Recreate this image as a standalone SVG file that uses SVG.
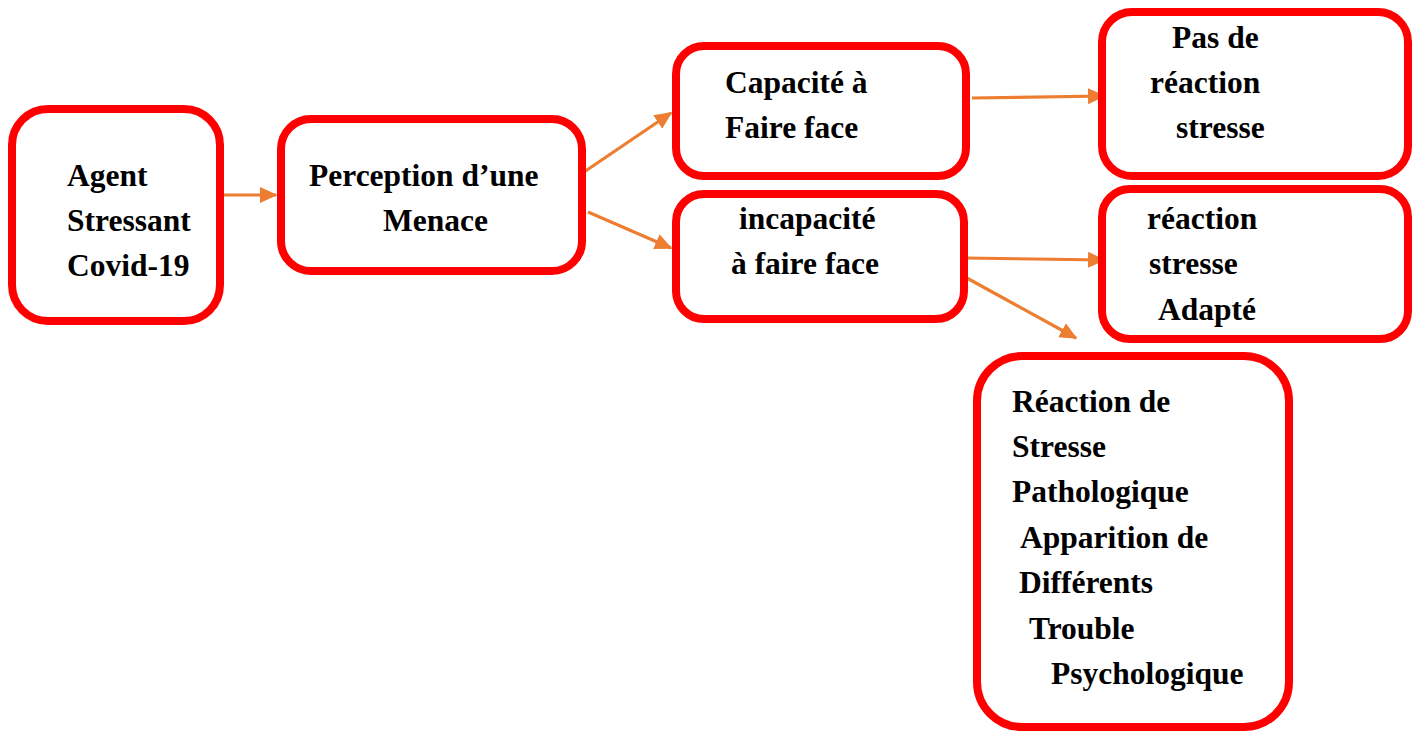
<svg xmlns="http://www.w3.org/2000/svg" width="1420" height="731" viewBox="0 0 1420 731">
<defs>
<marker id="ah" markerWidth="5.5" markerHeight="5" refX="5" refY="2.5" orient="auto" markerUnits="strokeWidth">
<path d="M0,0 L5.5,2.5 L0,5 Z" fill="#ED7D31"/>
</marker>
<style>
.box{fill:#fff;stroke:#FF0000;stroke-width:8}
.t{font-family:"Liberation Serif","Times New Roman",serif;font-weight:bold;font-size:31.5px;fill:#000}
.c{fill:none;stroke:#ED7D31;stroke-width:3.2;marker-end:url(#ah)}
</style>
</defs>
<rect width="1420" height="731" fill="#fff"/>
<g id="connectors">
<line class="c" x1="224" y1="195" x2="276" y2="195"/>
<line class="c" x1="584" y1="172" x2="671" y2="113"/>
<line class="c" x1="588" y1="212" x2="671" y2="248"/>
<line class="c" x1="972" y1="98" x2="1104" y2="96"/>
<line class="c" x1="965" y1="258" x2="1104" y2="260"/>
<line class="c" x1="965" y1="277" x2="1076" y2="338"/>
</g>
<g id="n1">
<rect class="box" x="12" y="109" width="208" height="212" rx="36"/>
<text class="t" x="67" y="186">Agent</text>
<text class="t" x="67" y="231">Stressant</text>
<text class="t" x="67" y="276">Covid-19</text>
</g>
<g id="n2">
<rect class="box" x="281" y="119" width="301" height="152" rx="30"/>
<text class="t" x="309" y="186">Perception d’une</text>
<text class="t" x="383" y="231">Menace</text>
</g>
<g id="n3">
<rect class="box" x="676" y="46" width="290" height="130" rx="28"/>
<text class="t" x="725" y="93">Capacité à</text>
<text class="t" x="725" y="138">Faire face</text>
</g>
<g id="n4">
<rect class="box" x="676" y="194" width="288" height="125" rx="28"/>
<text class="t" x="739" y="229">incapacité</text>
<text class="t" x="731" y="274">à faire face</text>
</g>
<g id="n5">
<rect class="box" x="1102" y="12" width="306" height="164" rx="30"/>
<text class="t" x="1172" y="48">Pas de</text>
<text class="t" x="1150" y="93">réaction</text>
<text class="t" x="1176" y="138">stresse</text>
</g>
<g id="n6">
<rect class="box" x="1102" y="189" width="306" height="150" rx="28"/>
<text class="t" x="1147" y="229">réaction</text>
<text class="t" x="1149" y="274">stresse</text>
<text class="t" x="1158" y="320">Adapté</text>
</g>
<g id="n7">
<rect class="box" x="977" y="356" width="312" height="371" rx="45"/>
<text class="t" x="1012" y="412">Réaction de</text>
<text class="t" x="1012" y="457">Stresse</text>
<text class="t" x="1012" y="502">Pathologique</text>
<text class="t" x="1020" y="548">Apparition de</text>
<text class="t" x="1019" y="593">Différents</text>
<text class="t" x="1029" y="639">Trouble</text>
<text class="t" x="1051" y="684">Psychologique</text>
</g>
</svg>
